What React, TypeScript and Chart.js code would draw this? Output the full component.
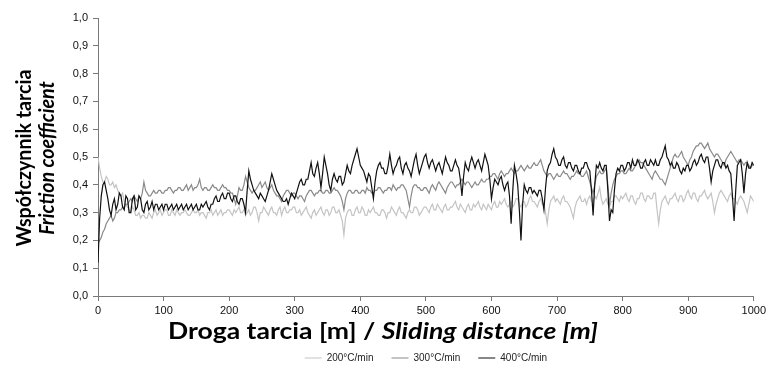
import { useEffect, useRef } from 'react';
import { Chart, registerables } from 'chart.js';

Chart.register(...registerables);

// Sampling of the sliding distance [m]
const SAMPLE_STEP_M = 2.5;
const SAMPLE_COUNT = 401;
const distance: number[] = Array.from({ length: SAMPLE_COUNT }, (_, i) => i * SAMPLE_STEP_M);

const seriesLabels = ['200°C/min', '300°C/min', '400°C/min'];

const cof200: number[] = [
  0.50, 0.46, 0.43, 0.41, 0.41, 0.43, 0.42, 0.40, 0.40, 0.41, 0.39, 0.40, 0.38, 0.37, 0.36, 0.37, 0.34, 0.33, 0.32, 0.31,
  0.30, 0.32, 0.31, 0.29, 0.29, 0.30, 0.28, 0.29, 0.29, 0.28, 0.28, 0.30, 0.29, 0.28, 0.30, 0.31, 0.29, 0.30, 0.31, 0.29,
  0.30, 0.31, 0.31, 0.29, 0.29, 0.31, 0.30, 0.29, 0.31, 0.30, 0.29, 0.30, 0.30, 0.31, 0.30, 0.29, 0.29, 0.30, 0.31, 0.30,
  0.30, 0.31, 0.29, 0.30, 0.30, 0.29, 0.28, 0.30, 0.30, 0.31, 0.29, 0.30, 0.31, 0.29, 0.30, 0.31, 0.29, 0.30, 0.30, 0.31,
  0.31, 0.30, 0.29, 0.31, 0.30, 0.31, 0.32, 0.30, 0.30, 0.31, 0.29, 0.30, 0.31, 0.29, 0.30, 0.32, 0.32, 0.30, 0.27, 0.30,
  0.30, 0.32, 0.31, 0.30, 0.29, 0.31, 0.32, 0.30, 0.30, 0.29, 0.31, 0.32, 0.29, 0.31, 0.32, 0.30, 0.30, 0.31, 0.31, 0.32,
  0.32, 0.30, 0.30, 0.31, 0.29, 0.30, 0.31, 0.32, 0.30, 0.29, 0.28, 0.30, 0.31, 0.29, 0.30, 0.31, 0.32, 0.30, 0.29, 0.31,
  0.31, 0.29, 0.30, 0.32, 0.32, 0.30, 0.30, 0.31, 0.29, 0.27, 0.22, 0.28, 0.30, 0.31, 0.31, 0.29, 0.29, 0.31, 0.32, 0.30,
  0.30, 0.32, 0.31, 0.29, 0.29, 0.31, 0.30, 0.31, 0.32, 0.30, 0.30, 0.29, 0.29, 0.31, 0.31, 0.30, 0.28, 0.30, 0.30, 0.32,
  0.31, 0.30, 0.29, 0.31, 0.32, 0.30, 0.30, 0.29, 0.28, 0.30, 0.31, 0.30, 0.30, 0.32, 0.32, 0.31, 0.29, 0.30, 0.31, 0.32,
  0.32, 0.31, 0.30, 0.32, 0.33, 0.31, 0.31, 0.33, 0.32, 0.31, 0.30, 0.32, 0.33, 0.31, 0.31, 0.32, 0.32, 0.33, 0.34, 0.32,
  0.31, 0.33, 0.32, 0.31, 0.30, 0.32, 0.33, 0.31, 0.31, 0.33, 0.32, 0.33, 0.34, 0.32, 0.31, 0.33, 0.32, 0.31, 0.33, 0.32,
  0.31, 0.33, 0.34, 0.32, 0.32, 0.34, 0.33, 0.34, 0.35, 0.33, 0.32, 0.33, 0.34, 0.32, 0.33, 0.35, 0.35, 0.33, 0.32, 0.34,
  0.34, 0.32, 0.33, 0.35, 0.36, 0.34, 0.34, 0.33, 0.32, 0.34, 0.35, 0.33, 0.33, 0.30, 0.26, 0.31, 0.34, 0.35, 0.36, 0.34,
  0.35, 0.34, 0.33, 0.35, 0.36, 0.34, 0.34, 0.33, 0.32, 0.30, 0.28, 0.32, 0.34, 0.35, 0.36, 0.34, 0.34, 0.35, 0.33, 0.35,
  0.36, 0.34, 0.34, 0.36, 0.35, 0.37, 0.39, 0.35, 0.33, 0.34, 0.35, 0.33, 0.32, 0.34, 0.34, 0.36, 0.36, 0.35, 0.34, 0.36,
  0.35, 0.36, 0.37, 0.35, 0.34, 0.36, 0.36, 0.34, 0.33, 0.35, 0.35, 0.37, 0.37, 0.35, 0.34, 0.36, 0.36, 0.35, 0.35, 0.37,
  0.37, 0.31, 0.26, 0.31, 0.34, 0.35, 0.36, 0.34, 0.33, 0.35, 0.35, 0.36, 0.37, 0.35, 0.34, 0.36, 0.36, 0.34, 0.35, 0.37,
  0.38, 0.36, 0.35, 0.37, 0.37, 0.35, 0.34, 0.36, 0.36, 0.37, 0.38, 0.36, 0.35, 0.36, 0.37, 0.34, 0.30, 0.33, 0.35, 0.37,
  0.38, 0.37, 0.36, 0.35, 0.34, 0.36, 0.37, 0.35, 0.35, 0.34, 0.33, 0.35, 0.36, 0.35, 0.34, 0.32, 0.30, 0.33, 0.36, 0.35,
  0.34,
];

const cof300: number[] = [
  0.19, 0.20, 0.21, 0.23, 0.24, 0.26, 0.27, 0.28, 0.29, 0.27, 0.28, 0.30, 0.30, 0.31, 0.31, 0.32, 0.32, 0.33, 0.33, 0.34,
  0.35, 0.34, 0.36, 0.35, 0.34, 0.36, 0.35, 0.37, 0.41, 0.38, 0.37, 0.36, 0.36, 0.37, 0.38, 0.37, 0.37, 0.38, 0.38, 0.37,
  0.37, 0.38, 0.38, 0.39, 0.39, 0.38, 0.37, 0.38, 0.38, 0.39, 0.39, 0.38, 0.38, 0.39, 0.40, 0.38, 0.39, 0.40, 0.38, 0.39,
  0.39, 0.40, 0.42, 0.39, 0.38, 0.39, 0.39, 0.38, 0.38, 0.39, 0.40, 0.39, 0.39, 0.38, 0.38, 0.39, 0.40, 0.39, 0.39, 0.38,
  0.38, 0.37, 0.37, 0.35, 0.33, 0.36, 0.39, 0.38, 0.38, 0.40, 0.43, 0.41, 0.39, 0.38, 0.37, 0.38, 0.38, 0.39, 0.40, 0.41,
  0.39, 0.40, 0.41, 0.39, 0.38, 0.39, 0.40, 0.38, 0.37, 0.36, 0.36, 0.35, 0.34, 0.36, 0.37, 0.38, 0.38, 0.37, 0.36, 0.37,
  0.37, 0.36, 0.35, 0.36, 0.36, 0.35, 0.34, 0.36, 0.37, 0.38, 0.38, 0.37, 0.36, 0.37, 0.37, 0.38, 0.38, 0.37, 0.37, 0.38,
  0.38, 0.37, 0.37, 0.38, 0.39, 0.38, 0.38, 0.37, 0.36, 0.34, 0.31, 0.35, 0.37, 0.38, 0.38, 0.37, 0.37, 0.38, 0.38, 0.37,
  0.37, 0.38, 0.38, 0.37, 0.39, 0.38, 0.38, 0.37, 0.37, 0.38, 0.38, 0.39, 0.39, 0.38, 0.37, 0.38, 0.38, 0.39, 0.39, 0.38,
  0.40, 0.39, 0.38, 0.39, 0.39, 0.40, 0.40, 0.39, 0.38, 0.35, 0.32, 0.36, 0.39, 0.40, 0.40, 0.39, 0.39, 0.38, 0.38, 0.39,
  0.39, 0.38, 0.37, 0.39, 0.40, 0.39, 0.38, 0.40, 0.41, 0.40, 0.39, 0.38, 0.37, 0.39, 0.40, 0.41, 0.41, 0.40, 0.39, 0.40,
  0.40, 0.41, 0.42, 0.41, 0.40, 0.41, 0.41, 0.40, 0.39, 0.40, 0.41, 0.40, 0.40, 0.41, 0.42, 0.41, 0.41, 0.42, 0.42, 0.43,
  0.43, 0.44, 0.44, 0.43, 0.42, 0.44, 0.45, 0.44, 0.43, 0.44, 0.44, 0.45, 0.46, 0.45, 0.44, 0.45, 0.45, 0.46, 0.47, 0.46,
  0.45, 0.46, 0.47, 0.46, 0.46, 0.47, 0.48, 0.47, 0.47, 0.48, 0.49, 0.47, 0.45, 0.44, 0.43, 0.44, 0.44, 0.43, 0.42, 0.43,
  0.44, 0.43, 0.43, 0.44, 0.45, 0.44, 0.44, 0.43, 0.42, 0.43, 0.43, 0.44, 0.45, 0.44, 0.44, 0.43, 0.43, 0.44, 0.45, 0.43,
  0.41, 0.39, 0.37, 0.40, 0.43, 0.44, 0.45, 0.44, 0.44, 0.45, 0.46, 0.40, 0.33, 0.37, 0.40, 0.42, 0.43, 0.44, 0.44, 0.45,
  0.45, 0.44, 0.44, 0.45, 0.46, 0.45, 0.45, 0.46, 0.47, 0.48, 0.49, 0.48, 0.48, 0.47, 0.46, 0.45, 0.44, 0.43, 0.42, 0.44,
  0.45, 0.44, 0.43, 0.42, 0.42, 0.41, 0.40, 0.42, 0.44, 0.46, 0.48, 0.50, 0.51, 0.50, 0.50, 0.51, 0.52, 0.50, 0.49, 0.48,
  0.47, 0.49, 0.50, 0.52, 0.53, 0.54, 0.54, 0.55, 0.55, 0.54, 0.53, 0.54, 0.55, 0.53, 0.52, 0.51, 0.50, 0.51, 0.51, 0.50,
  0.49, 0.48, 0.47, 0.49, 0.50, 0.51, 0.52, 0.51, 0.50, 0.49, 0.48, 0.49, 0.49, 0.48, 0.47, 0.48, 0.48, 0.47, 0.46, 0.47,
  0.47,
];

const cof400: number[] = [
  0.12, 0.28, 0.36, 0.40, 0.41, 0.38, 0.35, 0.31, 0.29, 0.33, 0.35, 0.31, 0.33, 0.37, 0.36, 0.32, 0.31, 0.36, 0.35, 0.30,
  0.30, 0.35, 0.36, 0.31, 0.32, 0.36, 0.35, 0.31, 0.30, 0.33, 0.34, 0.31, 0.32, 0.34, 0.31, 0.33, 0.33, 0.31, 0.32, 0.33,
  0.31, 0.33, 0.33, 0.31, 0.32, 0.33, 0.31, 0.32, 0.33, 0.31, 0.32, 0.33, 0.31, 0.32, 0.33, 0.31, 0.32, 0.33, 0.31, 0.32,
  0.33, 0.31, 0.31, 0.33, 0.32, 0.33, 0.34, 0.32, 0.31, 0.33, 0.33, 0.35, 0.36, 0.34, 0.34, 0.36, 0.37, 0.35, 0.35, 0.37,
  0.37, 0.35, 0.34, 0.36, 0.36, 0.34, 0.33, 0.35, 0.35, 0.33, 0.30, 0.38, 0.45, 0.42, 0.40, 0.38, 0.37, 0.36, 0.35, 0.37,
  0.36, 0.35, 0.34, 0.36, 0.38, 0.41, 0.44, 0.42, 0.40, 0.38, 0.37, 0.36, 0.35, 0.34, 0.34, 0.35, 0.33, 0.35, 0.37, 0.36,
  0.35, 0.37, 0.39, 0.41, 0.42, 0.40, 0.40, 0.42, 0.42, 0.45, 0.48, 0.44, 0.43, 0.46, 0.48, 0.44, 0.39, 0.44, 0.50, 0.47,
  0.44, 0.40, 0.38, 0.42, 0.44, 0.42, 0.41, 0.43, 0.43, 0.40, 0.41, 0.44, 0.47, 0.45, 0.44, 0.47, 0.49, 0.51, 0.53, 0.50,
  0.47, 0.46, 0.45, 0.43, 0.41, 0.44, 0.43, 0.39, 0.35, 0.41, 0.45, 0.47, 0.48, 0.46, 0.46, 0.44, 0.44, 0.47, 0.51, 0.47,
  0.44, 0.46, 0.47, 0.49, 0.50, 0.46, 0.44, 0.47, 0.48, 0.46, 0.45, 0.43, 0.46, 0.49, 0.51, 0.47, 0.44, 0.46, 0.48, 0.50,
  0.51, 0.48, 0.46, 0.48, 0.49, 0.47, 0.45, 0.47, 0.48, 0.46, 0.44, 0.47, 0.50, 0.48, 0.47, 0.45, 0.45, 0.47, 0.49, 0.47,
  0.46, 0.42, 0.36, 0.43, 0.48, 0.46, 0.45, 0.48, 0.50, 0.48, 0.46, 0.48, 0.49, 0.47, 0.45, 0.48, 0.51, 0.49, 0.47, 0.42,
  0.35, 0.39, 0.42, 0.41, 0.40, 0.42, 0.43, 0.40, 0.38, 0.40, 0.41, 0.36, 0.26, 0.38, 0.47, 0.44, 0.40, 0.31, 0.20, 0.33,
  0.40, 0.38, 0.37, 0.39, 0.39, 0.37, 0.38, 0.37, 0.36, 0.38, 0.38, 0.35, 0.31, 0.39, 0.45, 0.47, 0.48, 0.51, 0.53, 0.50,
  0.49, 0.47, 0.47, 0.49, 0.50, 0.47, 0.46, 0.48, 0.48, 0.46, 0.45, 0.47, 0.47, 0.45, 0.44, 0.46, 0.46, 0.48, 0.48, 0.46,
  0.45, 0.38, 0.29, 0.40, 0.47, 0.46, 0.48, 0.46, 0.45, 0.47, 0.47, 0.38, 0.27, 0.31, 0.30, 0.38, 0.44, 0.46, 0.45, 0.47,
  0.47, 0.45, 0.46, 0.48, 0.48, 0.46, 0.49, 0.47, 0.47, 0.49, 0.48, 0.46, 0.46, 0.48, 0.49, 0.47, 0.47, 0.49, 0.48, 0.47,
  0.49, 0.47, 0.47, 0.49, 0.50, 0.52, 0.54, 0.50, 0.49, 0.47, 0.48, 0.46, 0.46, 0.48, 0.47, 0.45, 0.44, 0.46, 0.45, 0.47,
  0.47, 0.45, 0.46, 0.48, 0.49, 0.47, 0.48, 0.50, 0.51, 0.49, 0.48, 0.50, 0.50, 0.46, 0.41, 0.45, 0.47, 0.49, 0.49, 0.47,
  0.46, 0.48, 0.48, 0.46, 0.47, 0.45, 0.44, 0.36, 0.27, 0.38, 0.47, 0.48, 0.49, 0.44, 0.37, 0.44, 0.48, 0.46, 0.46, 0.48,
  0.47,
];

const xTicksMin = 0;
const xTicksMax = 1000;
const xTickStep = 100;
const yTicksMin = 0;
const yTicksMax = 1;
const yTickStep = 0.1;

const yTitleLine1 = 'Współczynnik tarcia';
const yTitleLine2 = 'Friction coefficient';
const xTitlePl = 'Droga tarcia [m] / ';
const xTitleEn = 'Sliding distance [m]';

const W = 769;
const H = 367;
const TITLE_FAMILY = 'Lato, "Open Sans", sans-serif';
const TICK_FAMILY = '"Liberation Sans", Arial, sans-serif';

const titlesPlugin = {
  id: 'mixedTitles',
  afterDraw(chart: any) {
    const { ctx, chartArea } = chart;
    ctx.save();
    ctx.fillStyle = '#000';
    ctx.textBaseline = 'middle';

    // X title (bold + bold italic), scaled along x to its measured width
    const xSize = 22;
    const fA = `bold ${xSize}px ${TITLE_FAMILY}`;
    const fB = `italic bold ${xSize}px ${TITLE_FAMILY}`;
    ctx.font = fA;
    const wA = ctx.measureText(xTitlePl).width;
    ctx.font = fB;
    const wB = ctx.measureText(xTitleEn).width;
    const kx = 430 / (wA + wB);
    ctx.save();
    ctx.translate(168, 332);
    ctx.scale(kx, 1);
    ctx.textAlign = 'left';
    ctx.font = fA;
    ctx.fillText(xTitlePl, 0, 0);
    ctx.font = fB;
    ctx.fillText(xTitleEn, wA, 0);
    ctx.restore();

    // Y title: two rotated lines
    const ySize = 20;
    const g1 = `bold ${ySize}px ${TITLE_FAMILY}`;
    const g2 = `italic bold ${ySize}px ${TITLE_FAMILY}`;
    ctx.font = g1;
    const w1 = ctx.measureText(yTitleLine1).width;
    const ky = 177 / w1;
    const cy = (chartArea.top + chartArea.bottom) / 2 + 1;
    ctx.save();
    ctx.translate(25, cy);
    ctx.rotate(-Math.PI / 2);
    ctx.scale(ky, 1);
    ctx.textAlign = 'center';
    ctx.font = g1;
    ctx.fillText(yTitleLine1, 0, 0);
    ctx.font = g2;
    ctx.fillText(yTitleLine2, 0, 23);
    ctx.restore();

    ctx.restore();
  },
};

export default function App() {
  const canvasRef = useRef<HTMLCanvasElement | null>(null);

  useEffect(() => {
    document.body.style.margin = '0';
    const canvas = canvasRef.current;
    if (!canvas) return;

    const colors = ['#c4c4c4', '#8a8a8a', '#111111'];
    const values = [cof200, cof300, cof400];
    const drawOrder = [2, 1, 0];

    const chart = new Chart(canvas, {
      type: 'line',
      data: {
        datasets: values.map((vals, k) => ({
          label: seriesLabels[k],
          data: distance.map((d, i) => ({ x: d, y: vals[i] })),
          borderColor: colors[k],
          backgroundColor: colors[k],
          borderWidth: 1.2,
          pointRadius: 0,
          tension: 0,
          fill: false,
          order: drawOrder[k],
        })),
      },
      options: {
        responsive: false,
        animation: false,
        events: [],
        layout: { padding: { left: 0, right: 14, top: 18, bottom: 0 } },
        plugins: {
          tooltip: { enabled: false },
          title: { display: false },
          legend: {
            display: true,
            position: 'bottom',
            fullSize: false,
            maxHeight: 32,
            labels: {
              usePointStyle: true,
              pointStyle: 'line',
              pointStyleWidth: 17,
              padding: 18,
              color: '#222',
              font: { family: '"Liberation Sans", Arial, sans-serif', size: 10 },
              sort: (a: any, b: any) => a.datasetIndex - b.datasetIndex,
            },
          },
        },
        scales: {
          x: {
            type: 'linear',
            min: xTicksMin,
            max: xTicksMax,
            afterFit: (s: any) => {
              s.height = 39;
            },
            ticks: {
              stepSize: xTickStep,
              padding: 3,
              color: '#111',
              font: { family: TICK_FAMILY, size: 11 },
              maxRotation: 0,
              autoSkip: false,
              callback: (v: any) => String(v),
            },
            grid: { display: true, drawOnChartArea: false, drawTicks: true, tickLength: 5, color: '#7a7a7a' },
            border: { display: true, color: '#7a7a7a', width: 1 },
          },
          y: {
            type: 'linear',
            min: yTicksMin,
            max: yTicksMax,
            afterFit: (s: any) => {
              s.width = 98;
            },
            ticks: {
              stepSize: yTickStep,
              padding: 5,
              color: '#111',
              font: { family: TICK_FAMILY, size: 11 },
              callback: (v: any) => Number(v).toFixed(1).replace('.', ','),
            },
            grid: { display: true, drawOnChartArea: false, drawTicks: true, tickLength: 5, color: '#7a7a7a' },
            border: { display: true, color: '#7a7a7a', width: 1 },
          },
        },
      },
      plugins: [titlesPlugin],
    });

    return () => chart.destroy();
  }, []);

  return (
    <div style={{ position: 'absolute', left: 0, top: 0, width: W, height: H, background: '#fff' }}>
      <canvas ref={canvasRef} width={W} height={H} style={{ display: 'block', width: W, height: H }} />
    </div>
  );
}
